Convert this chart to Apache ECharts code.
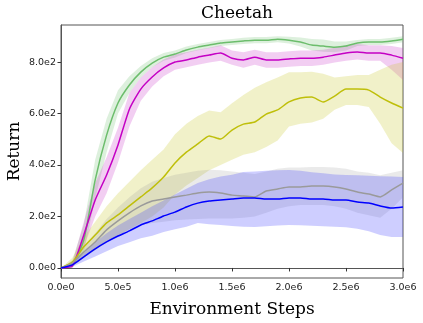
<!DOCTYPE html>
<html>
<head>
<meta charset="utf-8">
<script src="https://cdn.jsdelivr.net/npm/echarts@6/dist/echarts.min.js"></script>
<style>
  html, body { margin: 0; padding: 0; background: #fff; }
  #main { width: 423px; height: 323px; }
</style>
</head>
<body>
<div id="main"></div>
<script>
// steps 0 .. 3.0e6 every 1e5
const steps = [];
for (let k = 0; k <= 30; k++) steps.push(k * 100000);

const yTicks = [0, 200, 400, 600, 800];
const xTicks = [0, 500000, 1000000, 1500000, 2000000, 2500000, 3000000];

const greenMean = [0, 12, 109, 342, 516, 641, 711, 761, 796, 819, 831, 847, 858, 866, 874, 878, 882, 885, 885, 889, 885, 878, 866, 862, 858, 862, 874, 878, 878, 882, 889];
const greenLow  = [0, 0, 60, 270, 450, 600, 680, 740, 780, 805, 818, 835, 846, 854, 862, 866, 870, 873, 873, 877, 872, 860, 845, 840, 838, 845, 862, 866, 866, 870, 877];
const greenHigh = [0, 30, 170, 420, 580, 690, 745, 785, 815, 835, 845, 860, 870, 878, 886, 890, 894, 897, 897, 900, 898, 895, 890, 888, 880, 880, 886, 890, 890, 894, 900];

const magentaMean = [0, 8, 128, 264, 361, 478, 617, 695, 742, 777, 800, 808, 819, 827, 835, 815, 808, 819, 808, 808, 812, 815, 815, 819, 827, 835, 839, 835, 835, 827, 815];
const magentaLow  = [0, 0, 80, 200, 290, 410, 550, 650, 705, 745, 770, 780, 790, 798, 805, 790, 778, 790, 778, 778, 782, 785, 785, 790, 798, 805, 810, 805, 805, 770, 730];
const magentaHigh = [0, 20, 180, 330, 430, 545, 680, 740, 780, 810, 830, 838, 848, 856, 865, 845, 838, 848, 838, 838, 842, 845, 845, 848, 856, 865, 870, 865, 865, 862, 855];

const oliveMean = [0, 23, 82, 128, 175, 206, 241, 276, 311, 353, 408, 450, 482, 513, 501, 536, 559, 567, 598, 614, 645, 660, 664, 645, 668, 695, 695, 691, 664, 641, 621];
const oliveLow  = [0, 5, 40, 70, 100, 125, 150, 175, 200, 235, 285, 320, 350, 380, 400, 420, 440, 450, 470, 495, 550, 560, 565, 580, 615, 633, 633, 625, 560, 485, 447];
const oliveHigh = [0, 40, 120, 180, 240, 290, 335, 380, 420, 460, 520, 560, 590, 612, 605, 640, 672, 700, 722, 740, 760, 760, 762, 755, 740, 745, 750, 750, 770, 790, 800];

const grayMean = [0, 19, 62, 101, 148, 183, 214, 241, 260, 268, 276, 283, 291, 295, 291, 283, 280, 276, 299, 307, 315, 315, 318, 318, 315, 307, 295, 287, 276, 303, 330];
const grayLow  = [0, 10, 40, 70, 100, 125, 150, 165, 175, 180, 185, 188, 190, 192, 192, 192, 195, 200, 215, 230, 240, 245, 245, 245, 240, 230, 215, 205, 195, 230, 275];
const grayHigh = [0, 28, 85, 135, 190, 235, 275, 310, 335, 350, 362, 370, 378, 382, 380, 375, 370, 365, 375, 385, 390, 390, 392, 392, 390, 385, 375, 370, 360, 370, 380];

const blueMean = [0, 12, 43, 74, 101, 124, 144, 167, 183, 202, 217, 237, 252, 260, 264, 268, 272, 272, 268, 268, 272, 272, 268, 268, 264, 264, 256, 252, 241, 233, 237];
const blueLow  = [0, 5, 25, 45, 65, 85, 100, 115, 125, 140, 150, 160, 175, 170, 167, 163, 160, 159, 162, 165, 167, 166, 164, 162, 160, 158, 152, 143, 128, 120, 120];
const blueHigh = [0, 20, 62, 100, 135, 165, 190, 215, 240, 262, 285, 308, 330, 345, 355, 362, 373, 375, 378, 380, 381, 378, 372, 368, 363, 361, 360, 358, 356, 355, 353];

const groups = [
  { name: 'green', mean: greenMean, low: greenLow, high: greenHigh, line: '#6cbd6c', fill: 'rgba(120,195,120,0.25)' },
  { name: 'magenta', mean: magentaMean, low: magentaLow, high: magentaHigh, line: '#c400c4', fill: 'rgba(205,60,205,0.25)' },
  { name: 'olive', mean: oliveMean, low: oliveLow, high: oliveHigh, line: '#bfbf0a', fill: 'rgba(200,200,40,0.25)' },
  { name: 'gray', mean: grayMean, low: grayLow, high: grayHigh, line: '#9a9a9a', fill: 'rgba(150,150,150,0.2)' },
  { name: 'blue', mean: blueMean, low: blueLow, high: blueHigh, line: '#0000ff', fill: 'rgba(60,60,255,0.25)' }
];

function sci(v) {
  if (v === 0) return '0.0e0';
  const e = Math.floor(Math.log10(Math.abs(v)) + 1e-9);
  return (v / Math.pow(10, e)).toFixed(1) + 'e' + e;
}

const pairs = arr => arr.map((v, i) => [steps[i], v]);

const series = [];
groups.forEach(g => {
  // shaded band: polygon through upper edge then back along lower edge
  series.push({
    type: 'custom', silent: true, z: 1,
    data: [[0, 0]],
    renderItem: function (params, api) {
      const pts = [];
      g.high.forEach((v, i) => pts.push(api.coord([steps[i], v])));
      for (let i = g.low.length - 1; i >= 0; i--) pts.push(api.coord([steps[i], g.low[i]]));
      return { type: 'polygon', shape: { points: pts }, style: { fill: g.fill } };
    }
  });
});
groups.forEach(g => {
  series.push({
    type: 'line', name: g.name, data: pairs(g.mean), symbol: 'none', smooth: 0.2,
    lineStyle: { color: g.line, width: 1.5 }, z: 3
  });
});

const chart = echarts.init(document.getElementById('main'), null, { renderer: 'canvas' });
chart.setOption({
  animation: false,
  backgroundColor: '#fff',
  title: {
    text: 'Cheetah', left: 232, top: 0, textAlign: 'center',
    textStyle: { fontFamily: 'DejaVu Serif', fontSize: 17, fontWeight: 'normal', color: '#000' }
  },
  grid: { left: 61, right: 20, top: 25, bottom: 45, outerBoundsMode: 'none', containLabel: false,
          show: true, borderColor: '#555', borderWidth: 1 },
  xAxis: {
    type: 'value', min: 0, max: 3000000, interval: 500000,
    name: 'Environment Steps', nameLocation: 'middle', nameGap: 23,
    nameTextStyle: { fontFamily: 'DejaVu Serif', fontSize: 17, color: '#000' },
    axisLine: { show: true, lineStyle: { color: '#555' } },
    axisTick: { show: true, length: 3.5, lineStyle: { color: '#333' }, customValues: xTicks },
    axisLabel: { fontFamily: 'DejaVu Sans', fontSize: 9.5, color: '#222', margin: 5, formatter: sci, customValues: xTicks },
    splitLine: { show: false }
  },
  yAxis: {
    type: 'value', min: -39, max: 944,
    name: 'Return', nameLocation: 'middle', nameGap: 38, nameMoveOverlap: false,
    nameTextStyle: { fontFamily: 'DejaVu Serif', fontSize: 17, color: '#000' },
    axisLine: { show: true, lineStyle: { color: '#555' } },
    axisTick: { show: true, length: 3.5, lineStyle: { color: '#333' }, customValues: yTicks },
    axisLabel: { fontFamily: 'DejaVu Sans', fontSize: 9.5, color: '#222', margin: 5, formatter: sci, customValues: yTicks },
    splitLine: { show: false }
  },
  series: series
});
</script>
</body>
</html>
